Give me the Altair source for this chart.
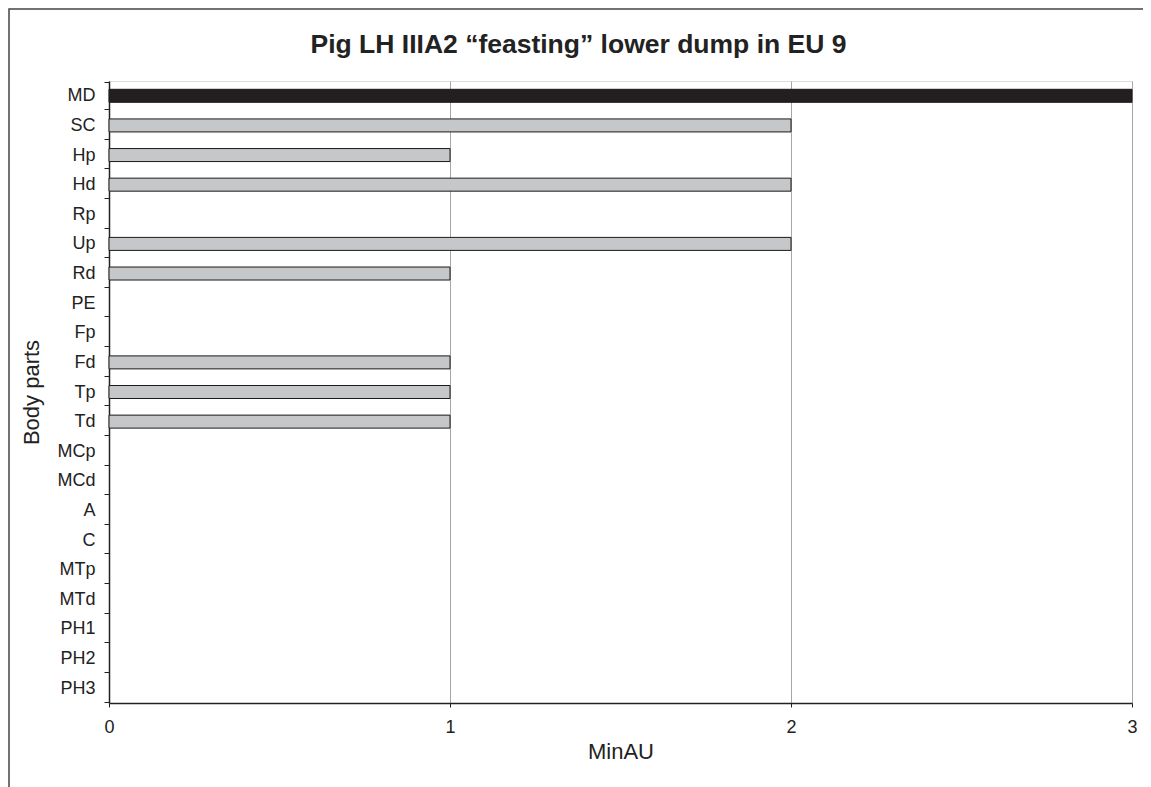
import altair as alt
import pandas as pd

parts = ["MD", "SC", "Hp", "Hd", "Rp", "Up", "Rd", "PE", "Fp", "Fd", "Tp",
         "Td", "MCp", "MCd", "A", "C", "MTp", "MTd", "PH1", "PH2", "PH3"]
minau = [3, 2, 1, 2, 0, 2, 1, 0, 0, 1, 1, 1, 0, 0, 0, 0, 0, 0, 0, 0, 0]

df = pd.DataFrame({"part": parts, "MinAU": minau})

FONT = "Liberation Sans"
W, H = 1023, 622
PL, PT = 101, 73

bars = alt.Chart(df).transform_filter("datum.MinAU > 0").mark_bar(
    size=13, stroke="#1a1a1a", strokeWidth=1
).encode(
    x=alt.X("MinAU:Q", scale=alt.Scale(domain=[0, 3], nice=False),
            axis=alt.Axis(values=[0, 1, 2, 3], format="d", title="MinAU",
                          grid=True, gridColor="#a6a6a6", gridWidth=1,
                          domainColor="#222", domainWidth=1.5,
                          tickColor="#222", tickSize=4, labelFlush=False,
                          labelFont=FONT, labelFontSize=18, labelColor="#222",
                          labelPadding=11,
                          titleFont=FONT, titleFontSize=22, titleFontWeight="normal",
                          titleColor="#222", titlePadding=5)),
    y=alt.Y("part:N", scale=alt.Scale(domain=parts),
            axis=alt.Axis(title="Body parts", tickBand="extent", grid=False,
                          domainColor="#222", domainWidth=1.5,
                          tickColor="#222", tickSize=5,
                          labelFont=FONT, labelFontSize=18, labelColor="#222",
                          labelPadding=9,
                          titleFont=FONT, titleFontSize=22, titleFontWeight="normal",
                          titleColor="#222", titlePadding=13)),
    color=alt.condition("datum.part == 'MD'", alt.value("#231f20"), alt.value("#c6c7c8")),
)

border = alt.Chart(pd.DataFrame({"a": [0]})).mark_rect(
    filled=False, stroke="#444", strokeWidth=1.5, clip=False
).encode(
    x=alt.value(-PL + 1), x2=alt.value(W + 200),
    y=alt.value(-PT + 1), y2=alt.value(H + 200),
)

chart = alt.layer(bars, border).properties(
    width=W, height=H,
    autosize=alt.AutoSizeParams(type="none"),
    padding={"left": PL, "top": PT, "right": 11, "bottom": 84},
    title=alt.TitleParams(
        "Pig LH IIIA2 “feasting” lower dump in EU 9",
        font=FONT, fontSize=26.5, fontWeight="bold", color="#222",
        anchor="middle", frame="group", dx=-42, offset=0, dy=50,
    ),
).configure_view(strokeOpacity=0).configure(background="white")

chart.save("out.html", embed_options={"renderer": "svg", "actions": False})
